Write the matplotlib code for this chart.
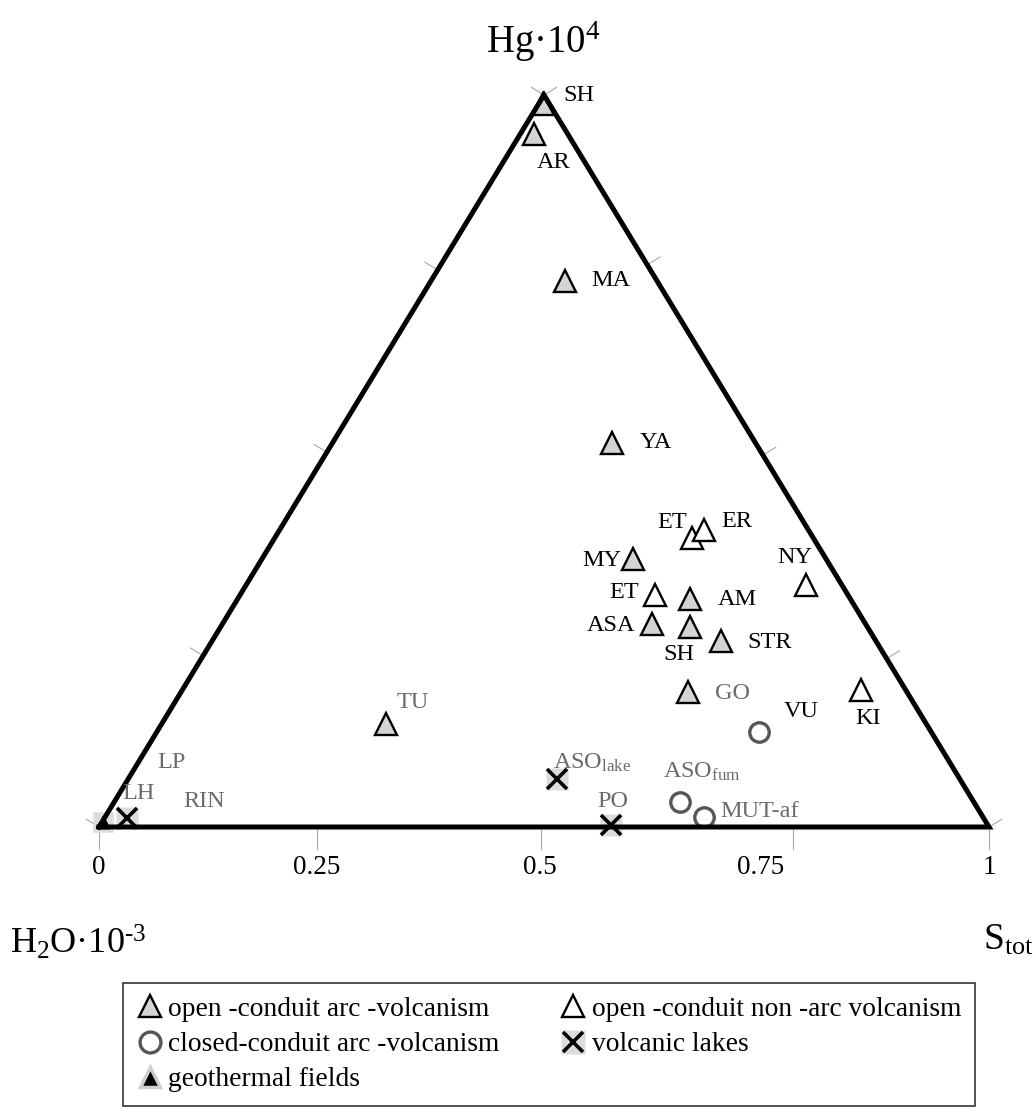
import matplotlib
matplotlib.use('Agg')
import matplotlib.pyplot as plt
from matplotlib.lines import Line2D
import numpy as np

plt.rcParams['font.family'] = 'Liberation Serif'
plt.rcParams['mathtext.fontset'] = 'custom'
plt.rcParams['mathtext.rm'] = 'Liberation Serif'
plt.rcParams['mathtext.it'] = 'Liberation Serif:italic'

# ternary fractions: Hg*10^4 and S_tot (H2O*10^-3 is the remainder)
arc_names = ['SH', 'AR', 'MA', 'YA', 'MY', 'AM', 'ASA', 'SH', 'STR', 'GO', 'TU']
arc_hg = [0.988, 0.947, 0.746, 0.525, 0.366, 0.311, 0.277, 0.273, 0.254, 0.184, 0.141]
arc_s = [0.005, 0.015, 0.151, 0.314, 0.417, 0.509, 0.483, 0.528, 0.572, 0.570, 0.252]

nonarc_names = ['ET', 'ER', 'ET', 'NY', 'KI']
nonarc_hg = [0.395, 0.406, 0.317, 0.331, 0.187]
nonarc_s = [0.469, 0.477, 0.466, 0.629, 0.763]

closed_names = ['VU', r'ASO$_{\rm fum}$', 'MUT-af']
closed_hg = [0.130, 0.034, 0.014]
closed_s = [0.677, 0.636, 0.673]

lake_names = [r'ASO$_{\rm lake}$', 'PO', 'LH']
lake_hg = [0.066, 0.003, 0.012]
lake_s = [0.482, 0.574, 0.025]

geo_names = ['LP', 'RIN']
geo_hg = [0.007, 0.007]
geo_s = [0.001, 0.001]

bottom_ticks = [0.0, 0.245, 0.497, 0.78, 1.0]
bottom_labels = ['0', '0.25', '0.5', '0.75', '1']
bottom_label_pos = [0.0, 0.245, 0.495, 0.743, 1.0]
left_ticks = [0.0, 0.234, 0.512, 0.761, 1.0]
right_ticks = [0.0, 0.230, 0.508, 0.768, 1.0]

# label placement (pixel offsets from the marker, alignment, colour)
grey_txt = '#6a6a6a'
arc_lab = [(20, 8, 'left', 'k'), (3, -29, 'left', 'k'), (26, 0, 'left', 'k'),
           (28, 0, 'left', 'k'), (-12, -1, 'right', 'k'), (27, 0, 'left', 'k'),
           (-17, -1, 'right', 'k'), (-12, -27, 'center', 'k'), (26, -1, 'left', 'k'),
           (27, -1, 'left', grey_txt), (11, 21, 'left', grey_txt)]
nonarc_lab = [(-5, 15, 'right', 'k'), (17, 8, 'left', 'k'), (-16, 2, 'right', 'k'),
              (-11, 27, 'center', 'k'), (7, -28, 'center', 'k')]
closed_lab = [(24, 20, 'left', 'k'), (-17, 30, 'left', grey_txt), (16, 5, 'left', grey_txt)]
lake_lab = [(-4, 16, 'left', grey_txt), (2, 23, 'center', grey_txt), (-4, 25, 'left', grey_txt)]
geo_lab = [(54, 59, 'left', grey_txt), (80, 20, 'left', grey_txt)]


def tern(hg, s):
    hg = np.asarray(hg)
    s = np.asarray(s)
    return s + hg / 2, hg


W, H, DPI = 10.36, 11.09, 100
fig = plt.figure(figsize=(W, H), dpi=DPI)
ax_box = [99 / 1036, 282 / 1109, 890 / 1036, 732 / 1109]
ax = fig.add_axes(ax_box)
ax.set_xlim(0, 1)
ax.set_ylim(0, 1)
ax.axis('off')
sx = W * DPI * ax_box[2]  # pixels per data unit
sy = H * DPI * ax_box[3]

# frame
ax.plot([0, 1, 0.5, 0], [0, 0, 1, 0], color='black', lw=3.6,
        solid_joinstyle='miter', zorder=3, clip_on=False)

# ticks
tick_c = '#a8a8a8'
for t in bottom_ticks:
    ax.plot([t, t], [0, -22 / sy], color=tick_c, lw=0.8, clip_on=False, zorder=1)
nl = np.array([-0.855, 0.519]) * 15
for h in left_ticks:
    ax.plot([h / 2, h / 2 + nl[0] / sx], [h, h + nl[1] / sy], color=tick_c,
            lw=0.8, clip_on=False, zorder=1)
for h in right_ticks:
    ax.plot([1 - h / 2, 1 - h / 2 - nl[0] / sx], [h, h + nl[1] / sy], color=tick_c,
            lw=0.8, clip_on=False, zorder=1)
for t, lab in zip(bottom_label_pos, bottom_labels):
    ax.text(t, -41 / sy, lab, ha='center', va='center', fontsize=19.5)

gray_fill = '#d4d4d4'
x, y = tern(arc_hg, arc_s)
ax.plot(x, y, ls='none', marker='^', ms=15.5, mfc=gray_fill, mec='black',
        mew=1.7, zorder=2.5, clip_on=False)
x, y = tern(nonarc_hg, nonarc_s)
ax.plot(x, y, ls='none', marker='^', ms=15.5, mfc='white', mec='black',
        mew=1.7, zorder=2.5, clip_on=False)
x, y = tern(closed_hg, closed_s)
ax.plot(x, y, ls='none', marker='o', ms=14, mfc='none', mec='#565656',
        mew=2.4, zorder=2.5, clip_on=False)
x, y = tern(lake_hg, lake_s)
ax.plot(x, y, ls='none', marker='s', ms=15.5, mfc='#dcdcdc', mec='none',
        zorder=1.5, clip_on=False)
ax.plot(x, y, ls='none', marker='x', ms=14, mec='black', mew=2.6,
        zorder=4, clip_on=False)
x, y = tern(geo_hg, geo_s)
ax.plot(x, y, ls='none', marker='s', ms=14, mfc='#dcdcdc', mec='none',
        zorder=1.5, clip_on=False)
ax.plot(x, y, ls='none', marker='^', ms=9, mfc='black', mec='black',
        zorder=4, clip_on=False)

groups = [(arc_names, arc_hg, arc_s, arc_lab),
          (nonarc_names, nonarc_hg, nonarc_s, nonarc_lab),
          (closed_names, closed_hg, closed_s, closed_lab),
          (lake_names, lake_hg, lake_s, lake_lab),
          (geo_names, geo_hg, geo_s, geo_lab)]
for names, hgs, ss, labs in groups:
    xs, ys = tern(hgs, ss)
    for n, xi, yi, (dx, dy, ha, c) in zip(names, xs, ys, labs):
        ax.annotate(n, (xi, yi), xytext=(dx, dy), textcoords='offset pixels',
                    ha=ha, va='center', fontsize=17.5, color=c, zorder=5)

# corner titles
fig.text(543 / 1036, 1 - 42 / 1109, 'Hg·10$^{4}$', ha='center', va='center', fontsize=28)
fig.text(10 / 1036, 1 - 943 / 1109, r'H$_{2}$O·10$^{\text{-}3}$', ha='left', va='center',
         fontsize=26)
fig.text(983 / 1036, 1 - 940 / 1109, r'S$_{\rm tot}$', ha='left', va='center', fontsize=27)

# legend
h_arc = Line2D([], [], ls='none', marker='^', ms=16, mfc=gray_fill, mec='black', mew=1.7)
h_non = Line2D([], [], ls='none', marker='^', ms=16, mfc='white', mec='black', mew=1.7)
h_clo = Line2D([], [], ls='none', marker='o', ms=15, mfc='none', mec='#565656', mew=2.4)
h_lake = (Line2D([], [], ls='none', marker='s', ms=17, mfc='#dcdcdc', mec='none'),
          Line2D([], [], ls='none', marker='x', ms=15, mec='black', mew=2.6))
h_geo = Line2D([], [], ls='none', marker='^', ms=15, mfc='black', mec='#cfcfcf', mew=2.5)
leg = fig.legend([h_arc, h_clo, h_geo, h_non, h_lake],
                 ['open -conduit arc -volcanism', 'closed-conduit arc -volcanism',
                  'geothermal fields', 'open -conduit non -arc volcanism', 'volcanic lakes'],
                 ncol=2, loc='upper left', bbox_to_anchor=(123 / 1036, 1 - 983 / 1109),
                 frameon=True, fancybox=False, edgecolor='black', fontsize=19.8,
                 handlelength=0.95, handletextpad=0.2, columnspacing=2.2,
                 borderpad=0.5, labelspacing=0.36, borderaxespad=0)
leg.get_frame().set_linewidth(1.2)

fig.savefig('out.png', dpi=DPI)
